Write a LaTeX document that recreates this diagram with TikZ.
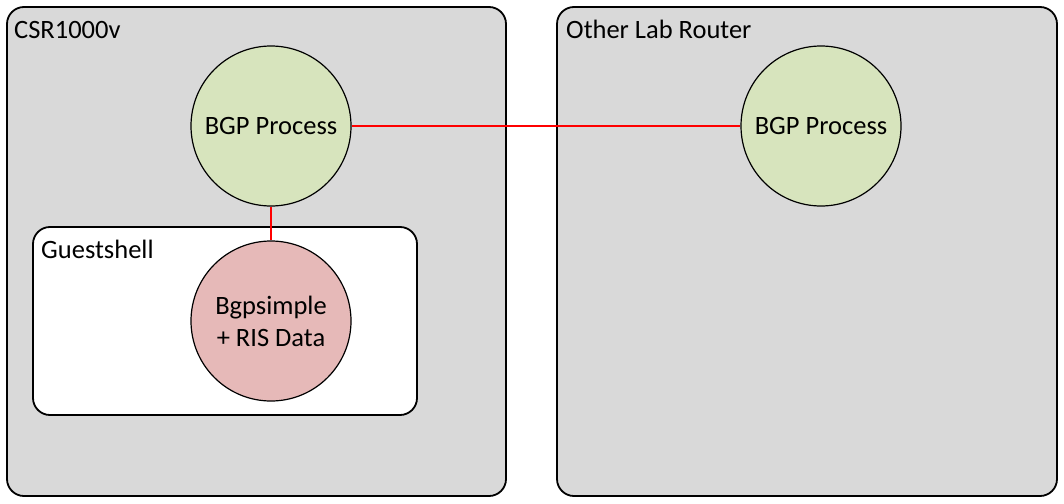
\documentclass[tikz,border=0pt]{standalone}
\usepackage{fontspec}
\setmainfont{Carlito}
\begin{document}
\begin{tikzpicture}[x=1pt,y=-1pt,
  router/.style={draw=black,line width=1.8pt,fill=routergray,rounded corners=17pt},
  shellbox/.style={draw=black,line width=1.8pt,fill=white,rounded corners=17pt},
  proc/.style={circle,draw=black,line width=1.2pt,minimum size=160pt,inner sep=0pt,align=center,font=\fontsize{26.5}{32}\selectfont},
  lbl/.style={anchor=base west,inner sep=0pt,font=\fontsize{26.5}{32}\selectfont},
  link/.style={draw=red,line width=1.2pt}]
\definecolor{routergray}{HTML}{D9D9D9}
\definecolor{procgreen}{HTML}{D7E4BD}
\definecolor{procpink}{HTML}{E6B9B8}
\useasboundingbox (0,0) rectangle (1064,503);
\draw[router] (7,7) rectangle (506,496);
\draw[router] (557,7) rectangle (1057,496);
\node[lbl] (csr) at (14,39) {CSR1000v};
\node[lbl] (other) at (566,39) {Other Lab Router};
\draw[shellbox] (33,227) rectangle (417,415);
\node[lbl] (gs) at (41,258) {Guestshell};
\node[proc,fill=procgreen] (bgpl) at (271,126) {BGP Process};
\node[proc,fill=procgreen] (bgpr) at (821,126) {BGP Process};
\node[proc,fill=procpink] (bgps) at (271,321) {Bgpsimple\\+ RIS Data};
\draw[link] (bgpl) -- (bgpr);
\draw[link] (bgpl) -- (bgps);
\end{tikzpicture}
\end{document}
